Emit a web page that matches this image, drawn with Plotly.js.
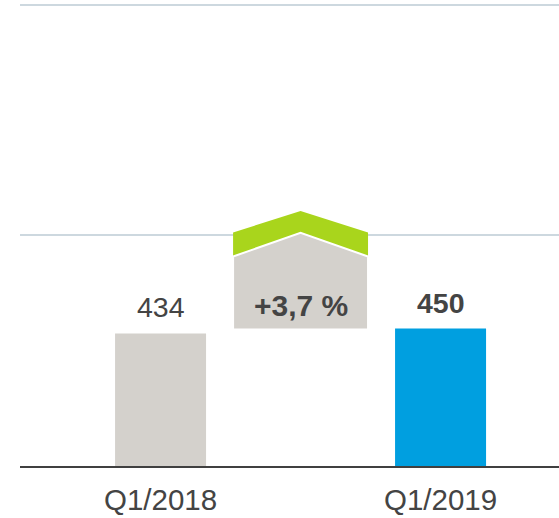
<!DOCTYPE html>
<html>
<head>
<meta charset="utf-8">
<script src="https://cdn.plot.ly/plotly-3.0.1.min.js"></script>
<style>html,body{margin:0;padding:0;background:#fff;}#chart{width:559px;height:518px;}</style>
</head>
<body>
<div id="chart"></div>
<script>
// ---- data ----
const categories = ['Q1/2018', 'Q1/2019'];
const values = [434, 450];
const valueLabels = ['434', '450'];
const changeLabel = '+3,7 %';
// arrow levels (value units): box bottom, box shoulder, box peak / chevron shoulder, chevron peak
const arrowLevels = [447, 686, 765, 835];
const gridValues = [755, 1510];

// ---- styling ----
const barColors = ['#d4d1cc', '#009fe0'];
const arrowGrey = '#d4d1cc';
const arrowGreen = '#a9d51c';
const textColor = '#444444';
const font = 'Liberation Sans, Arial, sans-serif';

const xPos = categories.map((c, i) => i * 2);
const mid = (xPos[0] + xPos[1]) / 2;
const hw = 0.482;
const [yb, ys, yp, yq] = arrowLevels;
const thick = yq - yp;

const bars = {
  type: 'bar', x: xPos, y: values, width: 0.65,
  marker: {color: barColors, line: {width: 0}},
  hoverinfo: 'none', showlegend: false
};
const green = {
  type: 'scatter', mode: 'lines', fill: 'toself', fillcolor: arrowGreen,
  line: {width: 0, color: arrowGreen},
  x: [mid - hw, mid, mid + hw, mid + hw, mid, mid - hw, mid - hw],
  y: [yp, yq, yp, ys, yp, ys, yp],
  hoverinfo: 'none', showlegend: false
};
const grey = {
  type: 'scatter', mode: 'lines', fill: 'toself', fillcolor: arrowGrey,
  line: {width: 2, color: '#ffffff'},
  x: [mid - hw, mid - hw, mid, mid + hw, mid + hw, mid - hw],
  y: [yb, ys, yp - thick * 0.02, ys, yb, yb],
  hoverinfo: 'none', showlegend: false
};

const annotations = values.map((v, i) => ({
  x: xPos[i], y: v, xref: 'x', yref: 'y', text: i === 1 ? '<b>' + valueLabels[i] + '</b>' : valueLabels[i],
  showarrow: false, yanchor: 'bottom', yshift: 8,
  font: {family: font, size: 28.5, color: textColor}
}));
annotations.push({
  x: mid, y: (yb + ys) / 2 - 30, xref: 'x', yref: 'y', text: '<b>' + changeLabel + '</b>',
  showarrow: false, yanchor: 'middle', yshift: -3, font: {family: font, size: 30, color: textColor}
});

const layout = {
  width: 559, height: 518,
  margin: {l: 20, r: 0, t: 0, b: 52},
  paper_bgcolor: '#ffffff', plot_bgcolor: '#ffffff',
  showlegend: false,
  xaxis: {
    range: [-1.004, 2.846], tickvals: xPos, ticktext: categories,
    showgrid: false, zeroline: false, showline: true, linecolor: '#404040', linewidth: 2,
    ticks: 'outside', ticklen: 7, tickcolor: 'rgba(0,0,0,0)',
    tickfont: {family: font, size: 29.5, color: textColor}, fixedrange: true
  },
  yaxis: {
    range: [0, 1526], tickvals: gridValues, showticklabels: false,
    showgrid: true, gridcolor: '#cdd8df', gridwidth: 2, zeroline: false, showline: false, fixedrange: true
  },
  annotations: annotations
};

Plotly.newPlot('chart', [bars, green, grey], layout, {displayModeBar: false, staticPlot: true});
</script>
</body>
</html>
